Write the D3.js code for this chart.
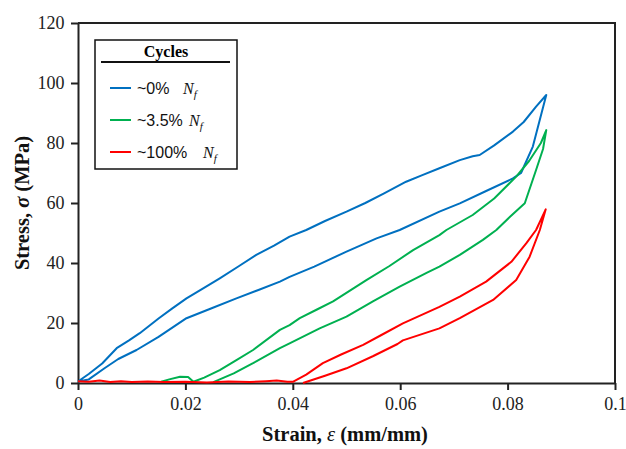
<!DOCTYPE html>
<html>
<head>
<script src="https://d3js.org/d3.v7.min.js"></script>
<style>
	body { margin: 0; background: #fff; }
	svg { display: block; }
	.tick text { font-family: "Liberation Serif", "Times New Roman", serif; font-size: 18px; fill: #222; }
	.axis path, .axis line { stroke: #222; stroke-width: 2px; }
</style>
</head>
<body>
<svg id="chart" width="626" height="449"></svg>
<script>
// ---- data (strain, stress) ----
var xTicks = [0, 0.02, 0.04, 0.06, 0.08, 0.1];
var xTickLabels = ["0", "0.02", "0.04", "0.06", "0.08", "0.1"];
var yTicks = [0, 20, 40, 60, 80, 100, 120];

var seriesNames = ["~0%", "~3.5%", "~100%"];
var seriesColors = ["#0070C0", "#00B050", "#FF0000"];

// ~0% Nf
var blueLoading = [[0,0.5],[0.002,3],[0.0045,6.5],[0.0072,11.6],[0.0095,14.2],[0.0115,16.6],[0.015,21.5],[0.0175,24.8],
	[0.0202,28.2],[0.023,31.2],[0.0264,34.9],[0.03,39],[0.0332,42.7],[0.0365,45.8],[0.0394,48.8],[0.0425,51],[0.046,54],
	[0.05,57.1],[0.0535,60],[0.057,63.2],[0.0611,67.1],[0.064,69.2],[0.0673,71.6],[0.0711,74.3],[0.0735,75.6],[0.0748,76],
	[0.0775,79.2],[0.081,83.8],[0.083,87],[0.0853,92.1],[0.0872,96]];
var blueUnloading = [[0,0.5],[0.002,1.2],[0.005,5],[0.0075,8],[0.0109,11],[0.015,15.4],[0.0202,21.6],[0.025,25],
	[0.0295,28.2],[0.0336,31],[0.0376,33.8],[0.0394,35.4],[0.044,38.8],[0.05,43.8],[0.0556,48.2],[0.0599,51],[0.0673,57.1],
	[0.0711,59.9],[0.076,64],[0.081,68.2],[0.0825,70],[0.0847,78.8],[0.0872,96]];

// ~3.5% Nf
var greenLoading = [[0.0155,0.4],[0.017,1.2],[0.019,2.1],[0.0205,2],[0.0215,0.4],[0.0235,1.8],[0.0264,4.3],[0.0295,7.6],
	[0.0326,11],[0.0376,17.7],[0.0394,19.3],[0.0413,21.6],[0.0445,24.5],[0.0475,27.2],[0.0537,34.3],[0.058,39],[0.0624,44.3],
	[0.0673,49.3],[0.0686,51],[0.0735,56],[0.0775,61.5],[0.0816,68.8],[0.084,74],[0.0862,80],[0.0872,84.3]];
var greenUnloading = [[0.0252,0.3],[0.029,3.2],[0.0326,6.6],[0.0376,11.6],[0.0394,13.2],[0.045,18.2],[0.05,22.1],[0.055,27.3],
	[0.0599,32.1],[0.065,36.8],[0.0673,38.8],[0.0711,42.7],[0.0754,47.7],[0.0779,51],[0.0805,55.5],[0.0832,59.9],[0.0853,71],
	[0.0866,78],[0.0872,84.3]];

// ~100% Nf
var redFlat = [[0,0.6],[0.002,0.4],[0.004,0.8],[0.006,0.3],[0.008,0.6],[0.01,0.3],[0.013,0.5],[0.016,0.3],[0.02,0.4],
	[0.024,0.2],[0.028,0.5],[0.032,0.3],[0.035,0.6],[0.037,0.8],[0.039,0.4]];
var redLoading = [[0.04,0.4],[0.0425,2.8],[0.0456,6.6],[0.049,9.5],[0.0531,12.7],[0.0565,16],[0.0605,19.9],[0.0673,25.4],
	[0.0711,28.8],[0.076,33.8],[0.0807,40.4],[0.0835,46.6],[0.0853,51],[0.0871,57.9]];
var redUnloading = [[0.0419,0],[0.046,2.4],[0.05,4.9],[0.055,9],[0.0595,13],[0.0605,14.2],[0.0673,18.2],[0.0711,21.6],
	[0.0773,27.7],[0.0816,34.3],[0.0841,42.1],[0.086,51],[0.0871,57.9]];

// one closed path per loop: loading up, unloading back down
var loops = [
	blueLoading.concat(blueUnloading.slice().reverse()),
	greenLoading.concat(greenUnloading.slice().reverse()),
	redFlat.concat(redLoading, redUnloading.slice().reverse())
];

// ---- layout ----
var svg = d3.select("#chart");
var plotLeft = 78, plotRight = 615, plotTop = 23, plotBottom = 383;

var x = d3.scaleLinear().domain([0, 0.1]).range([plotLeft, plotRight]);
var y = d3.scaleLinear().domain([0, 120]).range([plotBottom, plotTop]);

// frame top / right
svg.append("path")
	.attr("d", "M" + plotLeft + "," + plotTop + "H" + plotRight + "V" + plotBottom)
	.attr("fill", "none").attr("stroke", "#222").attr("stroke-width", 2);

svg.append("g").attr("class", "axis")
	.attr("transform", "translate(0," + plotBottom + ")")
	.call(d3.axisBottom(x).tickValues(xTicks).tickSize(7).tickSizeOuter(0)
		.tickFormat(function(d, i) { return xTickLabels[i]; }))
	.selectAll("text").attr("dy", "0.95em");

svg.append("g").attr("class", "axis")
	.attr("transform", "translate(" + plotLeft + ",0)")
	.call(d3.axisLeft(y).tickValues(yTicks).tickSize(7).tickSizeOuter(0))
	.selectAll("text").attr("dx", "-0.2em");

// loops
var line = d3.line().x(function(d) { return x(d[0]); }).y(function(d) { return y(d[1]); });
svg.append("g").selectAll("path").data(loops).enter().append("path")
	.attr("d", line)
	.attr("fill", "none")
	.attr("stroke", function(d, i) { return seriesColors[i]; })
	.attr("stroke-width", 2)
	.attr("stroke-linejoin", "round");

// axis titles
var xt = svg.append("text")
	.attr("x", 345).attr("y", 441)
	.attr("text-anchor", "middle")
	.style("font-family", "Liberation Serif, serif").style("font-size", "20.5px").style("font-weight", "bold").style("fill", "#111");
xt.append("tspan").text("Strain, ");
xt.append("tspan").style("font-style", "italic").style("font-weight", "normal").text("ε");
xt.append("tspan").text(" (mm/mm)");

var yt = svg.append("text")
	.attr("transform", "translate(29," + ((plotTop + plotBottom) / 2) + ") rotate(-90)")
	.attr("text-anchor", "middle")
	.style("font-family", "Liberation Serif, serif").style("font-size", "20.5px").style("font-weight", "bold").style("fill", "#111");
yt.append("tspan").text("Stress, ");
yt.append("tspan").style("font-style", "italic").text("σ");
yt.append("tspan").text(" (MPa)");

// legend
var lg = svg.append("g");
lg.append("rect").attr("x", 95).attr("y", 40).attr("width", 142).attr("height", 129)
	.attr("fill", "#fff").attr("stroke", "#111").attr("stroke-width", 1.5);
lg.append("text").attr("x", 166).attr("y", 57).attr("text-anchor", "middle")
	.style("font-family", "Liberation Serif, serif").style("font-size", "16px").style("font-weight", "bold")
	.text("Cycles");
lg.append("line").attr("x1", 101).attr("x2", 230).attr("y1", 62).attr("y2", 62)
	.attr("stroke", "#111").attr("stroke-width", 2);

var nfX = [183, 189, 203];
var row = lg.selectAll("g.row").data(seriesNames).enter().append("g")
	.attr("transform", function(d, i) { return "translate(0," + (88 + i * 32) + ")"; });
row.append("line").attr("x1", 110).attr("x2", 131).attr("y1", 0).attr("y2", 0)
	.attr("stroke", function(d, i) { return seriesColors[i]; }).attr("stroke-width", 2);
row.append("text").attr("x", 137).attr("y", 5.5)
	.style("font-family", "Liberation Sans, Arial, sans-serif").style("font-size", "16px").style("fill", "#111")
	.text(function(d) { return d; });
var nf = row.append("text").attr("x", function(d, i) { return nfX[i]; }).attr("y", 5.5)
	.style("font-family", "Liberation Serif, serif").style("font-size", "16px").style("font-style", "italic").style("fill", "#111");
nf.append("tspan").text("N");
nf.append("tspan").attr("dy", 4).style("font-size", "11px").text("f");
</script>
</body>
</html>
